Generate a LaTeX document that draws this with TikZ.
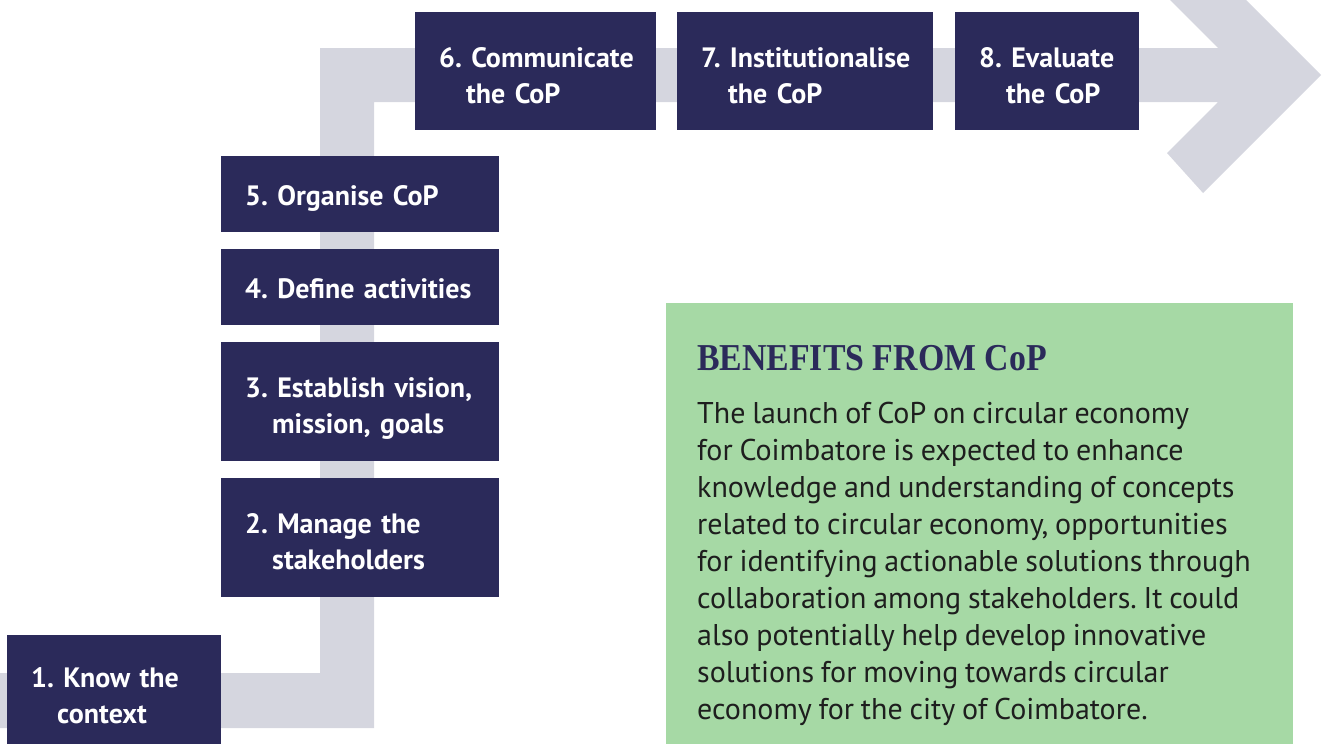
\documentclass[tikz,border=0pt]{standalone}
\usepackage{fontspec}
\newfontfamily\dinfont{PT Sans}
\newfontfamily\stepfont[WordSpace=0.85]{PT Sans}
\newfontfamily\headfont[FakeStretch=0.89]{Liberation Serif}
\definecolor{copnavy}{HTML}{2B2A5A}
\definecolor{pathgray}{HTML}{D5D6DF}
\definecolor{benefitgreen}{HTML}{A6D9A5}
\definecolor{bodyink}{HTML}{1E1E1E}
\frenchspacing
\hyphenpenalty=10000
\hbadness=10000
\hfuzz=20pt

\begin{document}
\begin{tikzpicture}[x=1pt,y=-1pt,
 stepbox/.style={fill=copnavy,text=white,font=\stepfont\bfseries\fontsize{28}{36}\selectfont,
  align=left,anchor=north west,inner xsep=24pt,inner ysep=0pt,
  execute at begin node={\rule{0pt}{25pt}}},
 oneline/.style={stepbox,text depth=3pt,minimum height=76pt},
 twoline/.style={stepbox,text depth=33pt},
 headtext/.style={text=copnavy,font=\headfont\bfseries\fontsize{38}{44}\selectfont,inner sep=0pt,anchor=base west},
 bodytext/.style={text=bodyink,font=\dinfont\fontsize{30}{37}\selectfont,align=left,inner sep=0pt,anchor=north west}]
\useasboundingbox (0,0) rectangle (1323,744);
\clip (0,0) rectangle (1323,744);
\fill[pathgray] (-5,673) -- (320,673) -- (320,48) -- (1218,48) -- (1167,-3) -- (1203,-43) -- (1321,75)
 -- (1203,193) -- (1167,153) -- (1218,102) -- (374,102) -- (374,728) -- (-5,728) -- cycle;
\node[twoline,text width=166pt,minimum height=112pt] (know) at (7,635) {1.~Know the\\\hspace*{26pt}context};
\node[twoline,text width=230pt,minimum height=119pt] (manage) at (221,478) {2.~Manage the\\\hspace*{27pt}stakeholders};
\node[twoline,text width=230pt,minimum height=119pt] (vision) at (221,342) {3.~Establish vision,\\\hspace*{27pt}mission, goals};
\node[oneline,text width=230pt] (activities) at (221,249) {4.~Define activities};
\node[oneline,text width=230pt] (organise) at (221,156) {5.~Organise CoP};
\node[twoline,text width=193pt,minimum height=118pt] (communicate) at (415,12) {6.~Communicate\\\hspace*{27pt}the CoP};
\node[twoline,text width=208pt,minimum height=118pt] (institutionalise) at (677,12) {7.~Institutionalise\\\hspace*{27pt}the CoP};
\node[twoline,text width=136pt,minimum height=118pt] (evaluate) at (955,12) {8.~Evaluate\\\hspace*{27pt}the CoP};
\fill[benefitgreen] (666,303) rectangle (1293,760);
\node[headtext] (benefitshead) at (697,370) {BENEFITS FROM CoP};
\node[bodytext] (benefitsbody) at (697,402) {The launch of CoP on circular economy\\
for Coimbatore is expected to enhance\\
knowledge and understanding of concepts\\
related to circular economy, opportunities\\
for identifying actionable solutions through\\
collaboration among stakeholders. It could\\
also potentially help develop innovative\\
solutions for moving towards circular\\
economy for the city of Coimbatore.};
\end{tikzpicture}
\end{document}
